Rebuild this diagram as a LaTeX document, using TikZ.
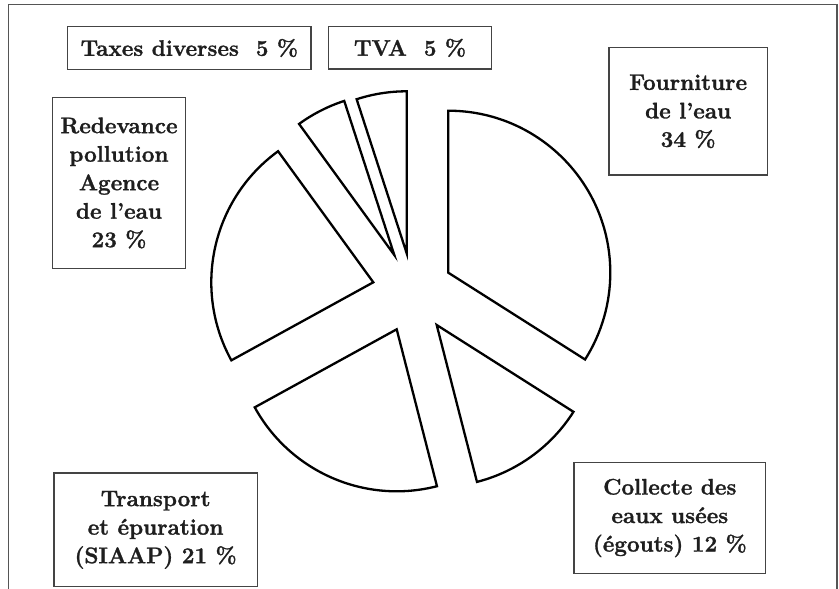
\documentclass[tikz,border=0pt]{standalone}
\usepackage{fontspec}
\newfontfamily\heavyfont{Latin Modern Roman}[BoldFeatures={FakeBold=1.3}]
\usetikzlibrary{positioning}
\definecolor{framegray}{HTML}{555555}
\definecolor{boxgray}{HTML}{444444}
\definecolor{txt}{HTML}{1E1E1E}
\begin{document}
\begin{tikzpicture}[x=1pt,y=-1pt,
  lbl/.style={draw=boxgray,line width=1.1pt,inner sep=0pt,align=center,text=txt,
    font=\heavyfont\fontsize{22.5}{28.5}\selectfont\bfseries},
  wedge/.style={draw=black,line width=2.3pt,line join=miter}]
\useasboundingbox (0,0) rectangle (839,589);
% frame (open at the bottom)
\coordinate (fbl) at (8.3,589);
\coordinate (ftl) at (8.3,4.5);
\coordinate (ftr) at (836.8,4.5);
\coordinate (fbr) at (836.8,589);
\draw[framegray,line width=1.5pt] (fbl) -- (ftl) -- (ftr) -- (fbr);
% pie slices (exploded)
\def\R{162}
\coordinate (aF) at (448.3,272.7);
\coordinate (aC) at (436.7,325);
\coordinate (aT) at (396.7,329.3);
\coordinate (aR) at (373.3,282.3);
\coordinate (aX) at (394.3,255);
\coordinate (aV) at (406.7,253.3);
\draw[wedge] (aF) -- ++(-90:\R) arc[start angle=-90,end angle=32.4,radius=\R] -- cycle;
\draw[wedge] (aC) -- ++(32.4:\R) arc[start angle=32.4,end angle=75.6,radius=\R] -- cycle;
\draw[wedge] (aT) -- ++(75.6:\R) arc[start angle=75.6,end angle=151.2,radius=\R] -- cycle;
\draw[wedge] (aR) -- ++(151.2:\R) arc[start angle=151.2,end angle=234,radius=\R] -- cycle;
\draw[wedge] (aX) -- ++(234:\R) arc[start angle=234,end angle=252,radius=\R] -- cycle;
\draw[wedge] (aV) -- ++(252:\R) arc[start angle=252,end angle=270,radius=\R] -- cycle;
% labels
\node[lbl,minimum width=243.3pt,minimum height=42.6pt] (taxes) at (189.35,48) {Taxes diverses\ \ 5 \%};
\node[lbl,minimum width=163.4pt,minimum height=42.3pt] (tva) at (410,47.85) {TVA\ \ 5 \%};
\node[lbl,minimum width=158.3pt,minimum height=127.3pt] (fourn) at (688.15,111.35) {Fourniture\\de l’eau\\34 \%};
\node[lbl,minimum width=133.4pt,minimum height=170.6pt] (redev) at (119,183) {Redevance\\pollution\\Agence\\de l’eau\\23 \%};
\node[lbl,minimum width=203.3pt,minimum height=113.7pt] (transp) at (155.65,529.85) {Transport\\et épuration\\(SIAAP) 21 \%};
\node[lbl,minimum width=191.7pt,minimum height=110.6pt] (collecte) at (669.85,518) {Collecte des\\eaux usées\\(égouts) 12 \%};
\end{tikzpicture}
\end{document}
